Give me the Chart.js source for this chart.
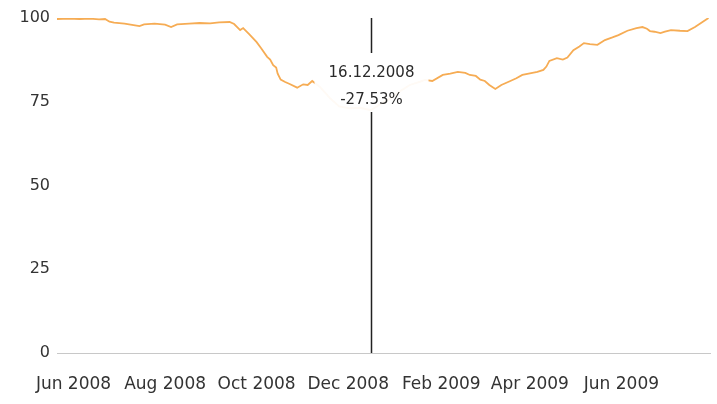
<!DOCTYPE html>
<html>
<head>
<meta charset="utf-8">
<script src="https://cdn.jsdelivr.net/npm/chart.js@4.4.1/dist/chart.umd.min.js"></script>
<style>
  html, body { margin: 0; padding: 0; background: #fff; }
  #wrap { width: 717px; height: 404px; }
</style>
</head>
<body>
<div id="wrap"><canvas id="indexChart"></canvas></div>
<script>
// Serie (indice base 100)
const dates = [
  '2008-05-21', '2008-05-29', '2008-06-05', '2008-06-12', '2008-06-18', '2008-06-22',
  '2008-06-25', '2008-06-28', '2008-07-05', '2008-07-12', '2008-07-15', '2008-07-18',
  '2008-07-25', '2008-08-01', '2008-08-05', '2008-08-09', '2008-08-17', '2008-08-24',
  '2008-08-31', '2008-09-06', '2008-09-13', '2008-09-16', '2008-09-20', '2008-09-22',
  '2008-09-26', '2008-10-01', '2008-10-04', '2008-10-08', '2008-10-10', '2008-10-12',
  '2008-10-14', '2008-10-15', '2008-10-17', '2008-10-20', '2008-10-23', '2008-10-28',
  '2008-11-01', '2008-11-04', '2008-11-07', '2008-11-12', '2008-11-19', '2008-11-25',
  '2008-12-02', '2008-12-09', '2008-12-16', '2008-12-22', '2008-12-29', '2009-01-04',
  '2009-01-11', '2009-01-18', '2009-01-21', '2009-01-26', '2009-02-02', '2009-02-07',
  '2009-02-12', '2009-02-17', '2009-02-20', '2009-02-24', '2009-02-27', '2009-03-02',
  '2009-03-05', '2009-03-09', '2009-03-13', '2009-03-19', '2009-03-23', '2009-03-27',
  '2009-04-01', '2009-04-06', '2009-04-10', '2009-04-12', '2009-04-14', '2009-04-19',
  '2009-04-23', '2009-04-26', '2009-04-30', '2009-05-04', '2009-05-07', '2009-05-11',
  '2009-05-16', '2009-05-21', '2009-05-26', '2009-05-30', '2009-06-05', '2009-06-11',
  '2009-06-15', '2009-06-18', '2009-06-20', '2009-06-23', '2009-06-27', '2009-06-30',
  '2009-07-04', '2009-07-10', '2009-07-15', '2009-07-20', '2009-07-25', '2009-07-29'
];
const values = [
  99.7, 99.8, 99.7, 99.8, 99.6, 99.7,
  98.9, 98.6, 98.3, 97.8, 97.6, 98.1,
  98.3, 98.0, 97.3, 98.1, 98.3, 98.5,
  98.4, 98.7, 98.8, 98.2, 96.4, 97.0,
  95.2, 92.8, 91.0, 88.4, 87.6, 85.9,
  85.2, 83.4, 81.6, 80.9, 80.3, 79.2,
  80.2, 80.0, 81.2, 79.5, 76.0, 73.6,
  73.0, 73.2, 72.47, 74.2, 76.0, 78.0,
  80.0, 81.0, 81.5, 81.2, 83.0, 83.4,
  83.9, 83.6, 83.0, 82.7, 81.6, 81.2,
  80.0, 78.8, 80.0, 81.2, 82.0, 83.0,
  83.5, 83.9, 84.5, 85.5, 87.2, 88.0,
  87.6, 88.2, 90.4, 91.5, 92.5, 92.2,
  92.0, 93.4, 94.2, 94.9, 96.2, 97.0,
  97.3, 96.8, 96.1, 95.9, 95.5, 95.9,
  96.4, 96.2, 96.1, 97.3, 98.8, 100.0
];

// Eixo X: rotulos a cada dois meses
const tickDates = ['2008-06-01', '2008-08-01', '2008-10-01', '2008-12-01', '2009-02-01', '2009-04-01', '2009-06-01'];
const tickLabels = ['Jun 2008', 'Aug 2008', 'Oct 2008', 'Dec 2008', 'Feb 2009', 'Apr 2009', 'Jun 2009'];
const yTicks = [0, 25, 50, 75, 100];

// Marcador vertical
const markerDate = '2008-12-16';
const markerLines = ['16.12.2008', '-27.53%'];

// converte data em numero de dias (desde 01.06.2008)
const base = Date.UTC(2008, 5, 1);
function toDay(s) {
  const p = s.split('-');
  return Math.round((Date.UTC(+p[0], +p[1] - 1, +p[2]) - base) / 86400000);
}

const points = dates.map((d, i) => ({ x: toDay(d), y: values[i] }));
const tickDays = tickDates.map(toDay);

const markerPlugin = {
  id: 'marker',
  afterDatasetsDraw(chart) {
    const ctx = chart.ctx;
    const area = chart.chartArea;
    const x = Math.round(chart.scales.x.getPixelForValue(toDay(markerDate))) + 0.5;
    const boxTop = 50, boxBottom = 113, boxW = 114;

    ctx.save();
    // caixa branca por cima da linha
    ctx.fillStyle = 'rgba(255,255,255,0.94)';
    ctx.fillRect(x - boxW / 2, boxTop, boxW, boxBottom - boxTop);

    // linha vertical (interrompida pela caixa)
    ctx.strokeStyle = '#222';
    ctx.lineWidth = 1.5;
    ctx.beginPath();
    ctx.moveTo(x, area.top);
    ctx.lineTo(x, boxTop + 3);
    ctx.moveTo(x, boxBottom - 1);
    ctx.lineTo(x, area.bottom);
    ctx.stroke();

    ctx.fillStyle = '#2a2a2a';
    ctx.font = '15px "DejaVu Sans"';
    ctx.textAlign = 'center';
    ctx.textBaseline = 'middle';
    ctx.fillText(markerLines[0], x, 73);
    ctx.fillText(markerLines[1], x, 100);
    ctx.restore();
  }
};

const ctx = document.getElementById('indexChart').getContext('2d');
const indexChart = new Chart(ctx, {
  type: 'line',
  data: {
    datasets: [{
      data: points,
      borderColor: 'rgb(246, 172, 84)',
      borderWidth: 1.8,
      pointRadius: 0,
      tension: 0,
      fill: false
    }]
  },
  options: {
    responsive: true,
    maintainAspectRatio: false,
    animation: false,
    layout: { padding: { top: 18, right: 7, left: 0, bottom: 0 } },
    plugins: {
      legend: { display: false },
      tooltip: { enabled: false }
    },
    scales: {
      x: {
        type: 'linear',
        min: toDay('2008-05-21'),
        max: toDay('2009-07-30'),
        grid: { display: false, drawTicks: false },
        border: { display: true, color: '#c8c8c8', width: 1 },
        afterBuildTicks: function(scale) {
          scale.ticks = tickDays.map(v => ({ value: v }));
        },
        afterFit: function(scale) { scale.height = 51; },
        ticks: {
          autoSkip: false,
          maxRotation: 0,
          padding: 21,
          color: '#333',
          font: { family: 'DejaVu Sans', size: 17 },
          callback: function(value) {
            const i = tickDays.indexOf(value);
            return i >= 0 ? tickLabels[i] : '';
          }
        }
      },
      y: {
        min: 0,
        max: 100,
        grid: { display: false, drawTicks: false },
        border: { display: false },
        afterBuildTicks: function(scale) {
          scale.ticks = yTicks.map(v => ({ value: v }));
        },
        afterFit: function(scale) { scale.width = 57; },
        ticks: {
          padding: 7,
          color: '#333',
          font: { family: 'DejaVu Sans', size: 16 }
        }
      }
    }
  },
  plugins: [markerPlugin]
});
</script>
</body>
</html>
